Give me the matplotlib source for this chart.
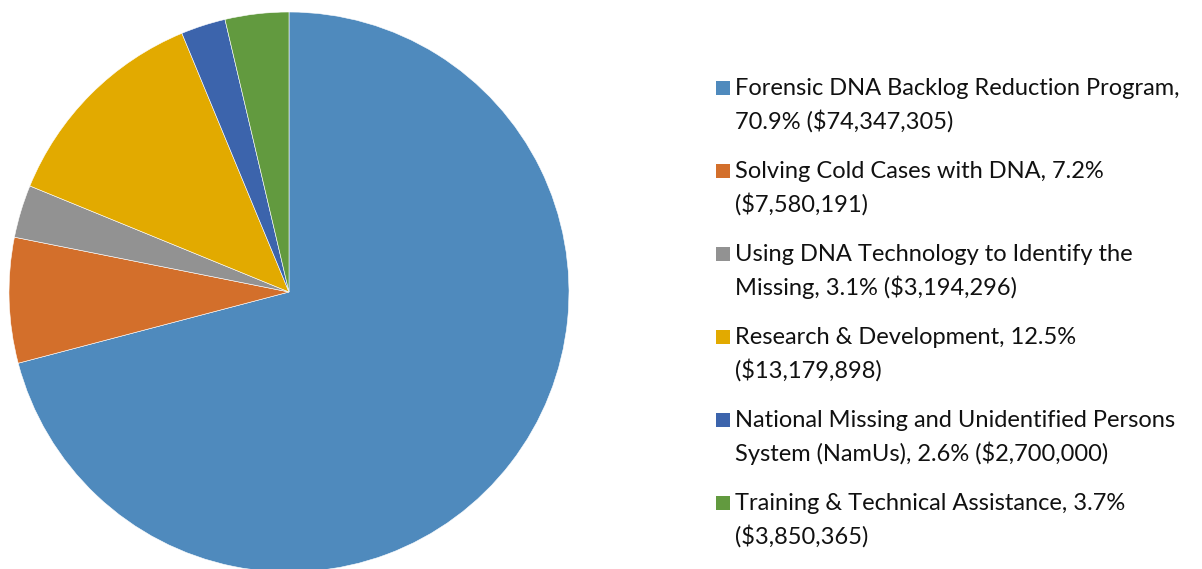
import matplotlib
matplotlib.use('Agg')
import matplotlib.pyplot as plt
from matplotlib.patches import Rectangle

# data
labels = ['Forensic DNA Backlog Reduction Program,\n70.9% ($74,347,305)',
          'Solving Cold Cases with DNA, 7.2%\n($7,580,191)',
          'Using DNA Technology to Identify the\nMissing, 3.1% ($3,194,296)',
          'Research & Development, 12.5%\n($13,179,898)',
          'National Missing and Unidentified Persons\nSystem (NamUs), 2.6% ($2,700,000)',
          'Training & Technical Assistance, 3.7%\n($3,850,365)']
amounts = [74347305, 7580191, 3194296, 13179898, 2700000, 3850365]
colors = ['#4f8abd', '#d36f2b', '#929292', '#e2aa00', '#3c64ac', '#629a3f']

W, H = 1202, 569
fig = plt.figure(figsize=(W / 100, H / 100), dpi=100)

# pie: centre (289, 292) px, radius 280 px
cx, cy, r = 289, 292, 280
ax = fig.add_axes([(cx - r) / W, (H - cy - r) / H, 2 * r / W, 2 * r / H])
ax.pie(amounts, colors=colors, startangle=90, counterclock=False,
       radius=1, wedgeprops=dict(edgecolor='white', linewidth=0.4))
ax.set_xlim(-1, 1)
ax.set_ylim(-1, 1)
ax.set_aspect('equal')
ax.axis('off')

# legend drawn by hand, in pixel coords
lax = fig.add_axes([0, 0, 1, 1])
lax.set_xlim(0, W)
lax.set_ylim(H, 0)
lax.axis('off')
y0, step, lh = 88, 83, 33
for i, (lab, c) in enumerate(zip(labels, colors)):
    y = y0 + i * step
    lax.add_patch(Rectangle((716, y - 7), 14, 14, color=c, lw=0))
    lines = lab.split('\n')
    for j, ln in enumerate(lines):
        lax.text(735, y + j * lh, ln, fontsize=17, family='Lato',
                 color='#111111', va='center', ha='left')

fig.savefig('out.png', dpi=100)
